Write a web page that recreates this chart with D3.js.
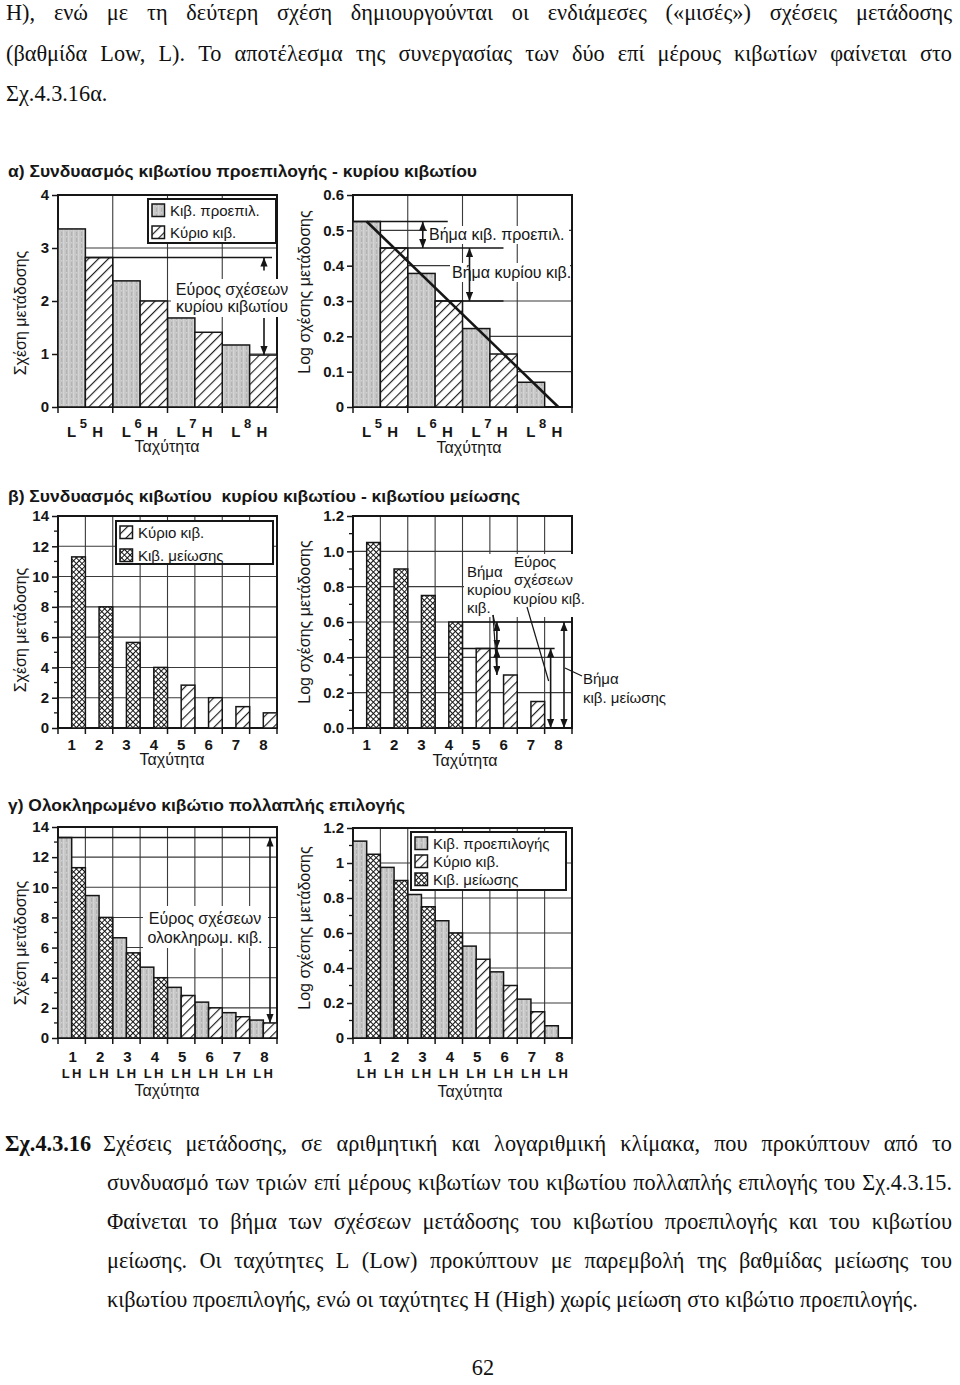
<!DOCTYPE html>
<html><head><meta charset="utf-8">
<script src="https://cdn.jsdelivr.net/npm/d3@7"></script>
<style>body{margin:0;background:#fff}svg{display:block}</style>
</head><body>
<svg id="c" width="960" height="1385"></svg>
<script>
// ---------------- data ----------------
const groupsA = ["5", "6", "7", "8"];
const preselArith = [3.36, 2.38, 1.68, 1.17];
const mainArith = [2.82, 2.00, 1.41, 0.98];
const preselLog = [0.525, 0.378, 0.222, 0.07];
const mainLog = [0.45, 0.30, 0.15, 0];

const speeds = ["1", "2", "3", "4", "5", "6", "7", "8"];
const boxB = ["red", "red", "red", "red", "main", "main", "main", "main"];
const ratioBArith = [11.3, 8.0, 5.65, 4.0, 2.83, 2.0, 1.41, 1.0];
const ratioBLog = [1.05, 0.90, 0.75, 0.60, 0.45, 0.30, 0.15, 0];

const lowCArith = [13.3, 9.45, 6.65, 4.7, 3.36, 2.38, 1.68, 1.19];
const highCArith = [11.3, 8.0, 5.65, 4.0, 2.82, 2.0, 1.41, 1.0];
const lowCLog = [1.125, 0.975, 0.82, 0.67, 0.525, 0.378, 0.222, 0.07];
const highCLog = [1.05, 0.90, 0.75, 0.60, 0.45, 0.30, 0.15, 0];

const ticksA1 = [0, 1, 2, 3, 4];
const labelsA1 = ["0", "1", "2", "3", "4"];
const ticksA2 = [0, 0.1, 0.2, 0.3, 0.4, 0.5, 0.6];
const labelsA2 = ["0", "0.1", "0.2", "0.3", "0.4", "0.5", "0.6"];
const ticksArith = [0, 2, 4, 6, 8, 10, 12, 14];
const labelsArith = ["0", "2", "4", "6", "8", "10", "12", "14"];
const minorArith = [1, 3, 5, 7, 9, 11, 13];
const ticksLog12 = [0, 0.2, 0.4, 0.6, 0.8, 1.0, 1.2];
const labelsB2 = ["0.0", "0.2", "0.4", "0.6", "0.8", "1.0", "1.2"];
const labelsC2 = ["0", "0.2", "0.4", "0.6", "0.8", "1", "1.2"];
const minorLog12 = [0.1, 0.3, 0.5, 0.7, 0.9, 1.1];

const legendA = ["Κιβ. προεπιλ.", "Κύριο κιβ."];
const legendB = ["Κύριο κιβ.", "Κιβ. μείωσης"];
const legendC = ["Κιβ. προεπιλογής", "Κύριο κιβ.", "Κιβ. μείωσης"];

const titleA = "α) Συνδυασμός κιβωτίου προεπιλογής - κυρίου κιβωτίου";
const titleB = "β) Συνδυασμός κιβωτίου  κυρίου κιβωτίου - κιβωτίου μείωσης";
const titleC = "γ) Ολοκληρωμένο κιβώτιο πολλαπλής επιλογής";

const topLines = [
  "H), ενώ με τη δεύτερη σχέση δημιουργούνται οι ενδιάμεσες («μισές») σχέσεις μετάδοσης",
  "(βαθμίδα Low, L). Το αποτέλεσμα της συνεργασίας των δύο επί μέρους κιβωτίων φαίνεται στο",
  "Σχ.4.3.16α."
];
const captionLabel = "Σχ.4.3.16";
const captionLines = [
  "Σχέσεις μετάδοσης, σε αριθμητική και λογαριθμική κλίμακα, που προκύπτουν από το",
  "συνδυασμό των τριών επί μέρους κιβωτίων του κιβωτίου πολλαπλής επιλογής του Σχ.4.3.15.",
  "Φαίνεται το βήμα των σχέσεων μετάδοσης του κιβωτίου προεπιλογής και του κιβωτίου",
  "μείωσης. Οι ταχύτητες L (Low) προκύπτουν με παρεμβολή της βαθμίδας μείωσης του",
  "κιβωτίου προεπιλογής, ενώ οι ταχύτητες H (High) χωρίς μείωση στο κιβώτιο προεπιλογής."
];

// ---------------- setup ----------------
const SANS = "'Liberation Sans', Arial, Helvetica, sans-serif";
const SERIF = "'Liberation Serif', 'Times New Roman', serif";
const INK = "#161616";
const svg = d3.select("#c");
const defs = svg.append("defs");

const pg = defs.append("pattern").attr("id", "pGray").attr("patternUnits", "userSpaceOnUse").attr("width", 5).attr("height", 6);
pg.append("rect").attr("width", 5).attr("height", 6).attr("fill", "#c6c6c6");
pg.append("rect").attr("x", 1).attr("width", 1.3).attr("height", 6).attr("fill", "#b3b3b3");
pg.append("rect").attr("x", 3.2).attr("width", 1).attr("height", 6).attr("fill", "#d8d8d8");
pg.append("rect").attr("x", 1).attr("y", 2).attr("width", 1.3).attr("height", 1.5).attr("fill", "#d2d2d2");

const ph = defs.append("pattern").attr("id", "pHatch").attr("patternUnits", "userSpaceOnUse")
  .attr("width", 7).attr("height", 7).attr("patternTransform", "rotate(45)");
ph.append("rect").attr("width", 7).attr("height", 7).attr("fill", "#fff");
ph.append("line").attr("x1", 0.6).attr("x2", 0.6).attr("y1", 0).attr("y2", 7).attr("stroke", INK).attr("stroke-width", 1.1);

const pc = defs.append("pattern").attr("id", "pCross").attr("patternUnits", "userSpaceOnUse")
  .attr("width", 4).attr("height", 4).attr("patternTransform", "rotate(45)");
pc.append("rect").attr("width", 4).attr("height", 4).attr("fill", "#fff");
pc.append("line").attr("x1", 0.5).attr("x2", 0.5).attr("y1", 0).attr("y2", 4).attr("stroke", INK).attr("stroke-width", 1);
pc.append("line").attr("y1", 0.5).attr("y2", 0.5).attr("x1", 0).attr("x2", 4).attr("stroke", INK).attr("stroke-width", 1);

defs.append("marker").attr("id", "arr").attr("viewBox", "0 0 10 8").attr("refX", 10).attr("refY", 4)
  .attr("markerWidth", 9).attr("markerHeight", 7.2).attr("markerUnits", "userSpaceOnUse")
  .attr("orient", "auto-start-reverse")
  .append("path").attr("d", "M0,0L10,4L0,8z").attr("fill", INK);

const FILL = { gray: "url(#pGray)", hatch: "url(#pHatch)", cross: "url(#pCross)" };

function makePanel(c) {
  const g = svg.append("g");
  const x = d3.scaleBand().domain(c.cats).range([c.x0, c.x1]).padding(0);
  const sub = d3.scaleBand().domain(["L", "H"]).range([0, x.bandwidth()]).padding(0);
  const y = d3.scaleLinear().domain(c.domain).range([c.yBot, c.yTop]);
  const grid = g.append("g");
  grid.selectAll("line.h").data(c.grid).join("line").attr("class", "h")
    .attr("x1", c.x0).attr("x2", c.x1).attr("y1", d => y(d)).attr("y2", d => y(d));
  grid.selectAll("line.v").data(c.cats.slice(1)).join("line").attr("class", "v")
    .attr("x1", d => x(d)).attr("x2", d => x(d)).attr("y1", c.yTop).attr("y2", c.yBot);
  grid.selectAll("line").attr("stroke", "#3a3a3a").attr("stroke-width", 1.1);
  g.append("rect").attr("x", c.x0).attr("y", c.yTop).attr("width", c.x1 - c.x0).attr("height", c.yBot - c.yTop)
    .attr("fill", "none").attr("stroke", INK).attr("stroke-width", 2);
  const ax = d3.axisLeft(y).tickValues(c.ticks)
    .tickFormat(d => c.labels[c.ticks.indexOf(d)]).tickSize(6).tickPadding(3);
  const ag = g.append("g").attr("transform", `translate(${c.x0},0)`).call(ax);
  ag.select(".domain").remove();
  ag.selectAll("line").attr("stroke", INK).attr("stroke-width", 1.5);
  ag.selectAll("text").attr("font-family", SANS).attr("font-size", 15).attr("font-weight", "bold").attr("fill", INK);
  g.selectAll("line.mt").data(c.minor || []).join("line").attr("class", "mt")
    .attr("x1", c.x0 - 4).attr("x2", c.x0).attr("y1", d => y(d)).attr("y2", d => y(d))
    .attr("stroke", INK).attr("stroke-width", 1.3);
  const bounds = c.cats.map(d => x(d)).concat([c.x1]);
  g.selectAll("line.xt").data(bounds).join("line").attr("class", "xt")
    .attr("x1", d => d).attr("x2", d => d).attr("y1", c.yBot).attr("y2", c.yBot + 6)
    .attr("stroke", INK).attr("stroke-width", 1.5);
  g.append("text").attr("transform", `translate(${c.yTitle[0]},${c.yTitle[1]}) rotate(-90)`)
    .attr("text-anchor", "middle").attr("font-family", SANS).attr("font-size", 16).attr("fill", INK).text(c.yTitleText);
  g.append("text").attr("x", c.xTitle[0]).attr("y", c.xTitle[1]).attr("text-anchor", "middle")
    .attr("font-family", SANS).attr("font-size", 16).attr("fill", INK).text("Ταχύτητα");
  const bg = g.append("g"), bars = g.append("g"), ann = g.append("g");
  return { g, x, sub, y, c, bg, bars, ann };
}

function drawBars(p, values, key, fillFn) {
  const data = values.map((v, i) => ({ v, i, cat: p.c.cats[i] })).filter(d => d.v > 0);
  p.bars.selectAll(null).data(data).join("rect")
    .attr("x", d => p.x(d.cat) + p.sub(key)).attr("width", p.sub.bandwidth())
    .attr("y", d => p.y(d.v)).attr("height", d => p.y(0) - p.y(d.v))
    .attr("fill", d => fillFn(d.i)).attr("stroke", INK).attr("stroke-width", 1.5);
}

function whiteBox(p, x, y, w, h) {
  p.bg.append("rect").attr("x", x).attr("y", y).attr("width", w).attr("height", h).attr("fill", "#fff");
}
function line(p, x1, y1, x2, y2, opts = {}) {
  const l = p.ann.append("line").attr("x1", x1).attr("y1", y1).attr("x2", x2).attr("y2", y2)
    .attr("stroke", INK).attr("stroke-width", opts.w || 1.6);
  if (opts.start) l.attr("marker-start", "url(#arr)");
  if (opts.end) l.attr("marker-end", "url(#arr)");
  return l;
}
function text(p, x, y, s, opts = {}) {
  return p.ann.append("text").attr("x", x).attr("y", y).attr("font-family", SANS)
    .attr("font-size", opts.size || 16).attr("font-weight", opts.weight || "normal")
    .attr("text-anchor", opts.anchor || "start").attr("fill", INK).text(s);
}
function legend(p, x, y, w, h, items, fills, rowH, size) {
  const lg = p.ann.append("g");
  lg.append("rect").attr("x", x).attr("y", y).attr("width", w).attr("height", h)
    .attr("fill", "#fff").attr("stroke", INK).attr("stroke-width", 2);
  items.forEach((s, i) => {
    const yy = y + 5 + i * rowH;
    lg.append("rect").attr("x", x + 4).attr("y", yy).attr("width", 12.5).attr("height", 12.5)
      .attr("fill", fills[i]).attr("stroke", INK).attr("stroke-width", 1.5);
    lg.append("text").attr("x", x + 22).attr("y", yy + 11.5).attr("font-family", SANS)
      .attr("font-size", size).attr("fill", INK).text(s);
  });
}

// ---------------- titles ----------------
[[titleA, 177, 469], [titleB, 502, 512], [titleC, 811, 397]].forEach(([s, y, w]) => {
  svg.append("text").attr("x", 8).attr("y", y).attr("font-family", SANS).attr("font-size", 16)
    .attr("font-weight", "bold").attr("fill", INK).attr("textLength", w)
    .attr("lengthAdjust", "spacingAndGlyphs").style("white-space", "pre").text(s);
});

// ---------------- panel α ----------------
const pAL = makePanel({ cats: groupsA, x0: 58, x1: 277, yTop: 195, yBot: 407, domain: [0, 4],
  ticks: ticksA1, labels: labelsA1, grid: [1, 2, 3], yTitle: [26, 313], yTitleText: "Σχέση μετάδοσης", xTitle: [167, 452] });
whiteBox(pAL, 171, 279, 122, 38);
drawBars(pAL, preselArith, "L", () => FILL.gray);
drawBars(pAL, mainArith, "H", () => FILL.hatch);
legend(pAL, 148, 199, 128, 44, legendA, [FILL.gray, FILL.hatch], 22, 15);
{
  const p = pAL, yTopH = p.y(mainArith[0]), yLast = p.y(mainArith[3]);
  line(p, p.x(groupsA[0]) + p.sub("H"), yTopH, p.c.x1 - 5, yTopH);
  line(p, p.c.x1 - 13, yTopH + 13, p.c.x1 - 13, yTopH, { end: true });
  line(p, p.c.x1 - 13, yLast - 37, p.c.x1 - 13, yLast, { end: true });
  text(p, 232, 295, "Εύρος σχέσεων", { anchor: "middle" });
  text(p, 232, 312, "κυρίου κιβωτίου", { anchor: "middle" });
}

const pAR = makePanel({ cats: groupsA, x0: 353, x1: 572, yTop: 195, yBot: 407, domain: [0, 0.6],
  ticks: ticksA2, labels: labelsA2, grid: [0.1, 0.2, 0.3, 0.4, 0.5], yTitle: [310, 292], yTitleText: "Log σχέσης μετάδοσης", xTitle: [469, 453] });
whiteBox(pAR, 427, 226, 142, 18);
whiteBox(pAR, 450, 263, 120, 19);
drawBars(pAR, preselLog, "L", () => FILL.gray);
drawBars(pAR, mainLog, "H", () => FILL.hatch);
{
  const p = pAR, bw = p.sub.bandwidth();
  const yP = p.y(preselLog[0]), yM0 = p.y(mainLog[0]), yM1 = p.y(mainLog[1]);
  line(p, p.x(groupsA[0]) + bw / 2, yP, p.x(groupsA[3]) + p.sub("H") + bw / 2, p.y(0), { w: 2.6 });
  line(p, p.c.x0, yP, p.x(groupsA[1]) + 40, yP);
  line(p, p.x(groupsA[0]) + p.sub("H"), yM0, p.x(groupsA[2]) + 41, yM0);
  line(p, p.x(groupsA[1]) + p.sub("H"), yM1, p.x(groupsA[2]) + 41, yM1);
  line(p, p.x(groupsA[1]) + 15, yP, p.x(groupsA[1]) + 15, yM0, { start: true, end: true });
  line(p, p.x(groupsA[2]) + 7, yM0, p.x(groupsA[2]) + 7, yM1, { start: true, end: true });
  text(p, 429, 240, "Βήμα κιβ. προεπιλ.");
  text(p, 452, 278, "Βήμα κυρίου κιβ.");
}

[pAL, pAR].forEach(p => {
  groupsA.forEach(gk => {
    const x0 = p.x(gk), bw = p.sub.bandwidth();
    text(p, x0 + bw / 2, 437, "L", { anchor: "middle", weight: "bold", size: 15 });
    text(p, x0 + bw - 2, 428, gk, { anchor: "middle", weight: "bold", size: 13 });
    text(p, x0 + p.sub("H") + bw / 2 - 1.5, 437, "H", { anchor: "middle", weight: "bold", size: 15 });
  });
});

// ---------------- panel β ----------------
const pBL = makePanel({ cats: speeds, x0: 58, x1: 277, yTop: 516, yBot: 728, domain: [0, 14],
  ticks: ticksArith, labels: labelsArith, minor: minorArith, grid: [2, 4, 6, 8, 10, 12],
  yTitle: [26, 630], yTitleText: "Σχέση μετάδοσης", xTitle: [172, 765] });
drawBars(pBL, ratioBArith, "H", i => boxB[i] === "red" ? FILL.cross : FILL.hatch);
legend(pBL, 116, 521, 157, 43, legendB, [FILL.hatch, FILL.cross], 23, 15);

const pBR = makePanel({ cats: speeds, x0: 353, x1: 572, yTop: 516, yBot: 728, domain: [0, 1.2],
  ticks: ticksLog12, labels: labelsB2, minor: minorLog12, grid: [0.2, 0.4, 0.6, 0.8, 1.0],
  yTitle: [310, 622], yTitleText: "Log σχέσης μετάδοσης", xTitle: [465, 766] });
whiteBox(pBR, 464, 554, 140, 63);
drawBars(pBR, ratioBLog, "H", i => boxB[i] === "red" ? FILL.cross : FILL.hatch);
{
  const p = pBR;
  const y6 = p.y(ratioBLog[3]), y45 = p.y(ratioBLog[4]), y3 = p.y(ratioBLog[5]), y0 = p.y(0);
  line(p, p.x(speeds[4]), y6, p.c.x1, y6);
  line(p, p.x(speeds[4]) + p.sub("H") - 14, y45, p.x(speeds[7]) + 10, y45);
  const xa = p.x(speeds[5]) + 7;
  line(p, xa, y6, xa, y45, { start: true, end: true });
  line(p, xa, y45, xa, y3, { start: true, end: true });
  line(p, p.x(speeds[7]) + 6, y45, p.x(speeds[7]) + 6, y0, { start: true, end: true });
  line(p, p.c.x1 - 8, y6, p.c.x1 - 8, y0, { start: true, end: true });
  line(p, 493, 615, xa - 1, y6 + 6, { w: 1.2 });
  line(p, 493, 615, xa, y3 - 4, { w: 1.2 });
  line(p, 527, 607, p.x(speeds[7]) + 4, 681, { w: 1.2 });
  line(p, 582, 676, p.c.x1 - 7, 668, { w: 1.2 });
  text(p, 467, 577, "Βήμα", { size: 15 });
  text(p, 467, 595, "κυρίου", { size: 15 });
  text(p, 467, 613, "κιβ.", { size: 15 });
  text(p, 514, 567, "Εύρος", { size: 15 });
  text(p, 514, 585, "σχέσεων", { size: 15 });
  text(p, 513, 604, "κυρίου κιβ.", { size: 15 });
  text(p, 583, 684, "Βήμα", { size: 15 });
  text(p, 583, 703, "κιβ. μείωσης", { size: 15 });
}

[pBL, pBR].forEach(p => {
  speeds.forEach(s => text(p, p.x(s) + p.x.bandwidth() / 2, 750, s, { anchor: "middle", weight: "bold", size: 15 }));
});

// ---------------- panel γ ----------------
const pCL = makePanel({ cats: speeds, x0: 58, x1: 277, yTop: 827, yBot: 1038, domain: [0, 14],
  ticks: ticksArith, labels: labelsArith, minor: minorArith, grid: [2, 4, 6, 8, 10, 12],
  yTitle: [26, 943], yTitleText: "Σχέση μετάδοσης", xTitle: [167, 1096] });
whiteBox(pCL, 143, 906, 125, 42);
drawBars(pCL, lowCArith, "L", () => FILL.gray);
drawBars(pCL, highCArith, "H", i => i < 4 ? FILL.cross : FILL.hatch);
{
  const p = pCL, yT = p.y(lowCArith[0]), yB = p.y(highCArith[7]);
  line(p, p.c.x0, yT, p.c.x1, yT);
  line(p, p.c.x1 - 7, yT, p.c.x1 - 7, yB, { start: true, end: true });
  text(p, 205, 924, "Εύρος σχέσεων", { anchor: "middle" });
  text(p, 205, 943, "ολοκληρωμ. κιβ.", { anchor: "middle" });
}

const pCR = makePanel({ cats: speeds, x0: 353, x1: 572, yTop: 828, yBot: 1038, domain: [0, 1.2],
  ticks: ticksLog12, labels: labelsC2, minor: minorLog12, grid: [0.2, 0.4, 0.6, 0.8, 1.0],
  yTitle: [310, 928], yTitleText: "Log σχέσης μετάδοσης", xTitle: [470, 1097] });
drawBars(pCR, lowCLog, "L", () => FILL.gray);
drawBars(pCR, highCLog, "H", i => i < 4 ? FILL.cross : FILL.hatch);
legend(pCR, 411, 832, 155, 58, legendC, [FILL.gray, FILL.hatch, FILL.cross], 18, 15);

[pCL, pCR].forEach(p => {
  speeds.forEach(s => {
    const cx = p.x(s) + p.x.bandwidth() / 2;
    text(p, cx + 1, 1062, s, { anchor: "middle", weight: "bold", size: 15 });
    text(p, cx - 6, 1078, "L", { anchor: "middle", weight: "bold", size: 13 });
    text(p, cx + 5, 1078, "H", { anchor: "middle", weight: "bold", size: 13 });
  });
});

// ---------------- body text ----------------
const body = svg.append("g").attr("font-family", SERIF).attr("fill", "#111");
function measure(s, fs, weight) {
  const t = body.append("text").attr("font-size", fs).attr("font-weight", weight || "normal")
    .style("white-space", "pre").text(s);
  const w = t.node().getComputedTextLength(); t.remove(); return w;
}
const FS = 20 * 811 / measure(captionLines[4], 20);
const SPACE = measure("a a", FS) - measure("aa", FS);
function writeLine(s, x0, x1, y, justify) {
  const words = s.split(" ");
  const nodes = words.map(w => body.append("text").attr("y", y).attr("font-size", FS).text(w));
  const widths = nodes.map(n => n.node().getComputedTextLength());
  const total = d3.sum(widths);
  const gap = justify && words.length > 1 ? (x1 - x0 - total) / (words.length - 1) : SPACE;
  let x = x0;
  nodes.forEach((n, i) => { n.attr("x", x); x += widths[i] + gap; });
}
writeLine(topLines[0], 6, 952, 20, true);
writeLine(topLines[1], 6, 952, 61, true);
writeLine(topLines[2], 6, 952, 101, false);
body.append("text").attr("x", 5).attr("y", 1151).attr("font-size", FS).attr("font-weight", "bold").text(captionLabel);
writeLine(captionLines[0], 103, 952, 1151, true);
writeLine(captionLines[1], 107, 952, 1190, true);
writeLine(captionLines[2], 107, 952, 1229, true);
writeLine(captionLines[3], 107, 952, 1268, true);
writeLine(captionLines[4], 107, 952, 1307, false);
body.append("text").attr("x", 483).attr("y", 1375).attr("font-size", FS).attr("text-anchor", "middle").text("62");
</script>
</body></html>
